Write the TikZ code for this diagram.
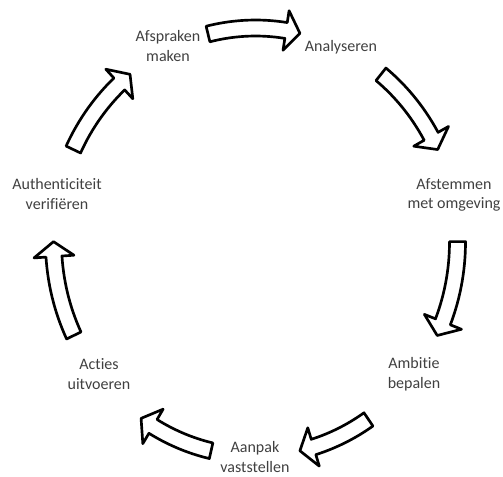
\documentclass[tikz,border=0pt]{standalone}
\usepackage{fontspec}
\setmainfont{Carlito}[Ligatures=NoCommon]
\usetikzlibrary{positioning}

\tikzset{every picture/.style={line width=0.75pt}}
\tikzset{
  cyclelabel/.style={align=center, inner sep=0.75pt, text={rgb,255:red,64;green,64;blue,64}, font=\fontsize{12}{14.6}\selectfont},
  blockarrow/.style={draw=black, fill=white, line width=2pt, line join=round}
}

% curved block arrow on the cycle, from tail angle #1 to tip angle #2
\newcommand{\cyclearrow}[2]{%
  \pgfmathsetmacro{\neckangle}{#2+4}%
  \draw [blockarrow] plot[domain=#1:\neckangle, samples=16] ({255.5+210*cos(\x)},{242-222*sin(\x)})
    -- ({255.5+222*cos(\neckangle)},{242-234*sin(\neckangle)})
    -- ({255.5+202*cos(#2)},{242-214*sin(#2)})
    -- ({255.5+182*cos(\neckangle)},{242-194*sin(\neckangle)})
    -- plot[domain=\neckangle:#1, samples=16] ({255.5+194*cos(\x)},{242-206*sin(\x)})
    -- cycle ;
}

\begin{document}
\begin{tikzpicture}[x=0.75pt,y=0.75pt,yscale=-1,xscale=1]
\useasboundingbox (0,0) rectangle (503,476);

% Text Node
\node [cyclelabel] (afspraken) at (168,46) {Afspraken\\maken};
% Text Node
\node [cyclelabel] (analyseren) at (341,47) {Analyseren};
% Text Node
\node [cyclelabel] (afstemmen) at (454,195) {Afstemmen\\met omgeving};
% Text Node
\node [cyclelabel] (ambitie) at (414,374) {Ambitie\\bepalen};
% Text Node
\node [cyclelabel] (aanpak) at (255,457) {Aanpak\\vaststellen};
% Text Node
\node [cyclelabel] (acties) at (99,374) {Acties\\uitvoeren};
% Text Node
\node [cyclelabel] (authenticiteit) at (57,194) {Authenticiteit\\verifiëren};

%Shape: Curved Arrows
\cyclearrow{103.6}{77.3}
\cyclearrow{51.6}{25.6}
\cyclearrow{0.1}{-25.9}
\cyclearrow{-56}{-77.3}
\cyclearrow{-102.7}{-124.5}
\cyclearrow{205.9}{179.9}
\cyclearrow{154.4}{128.4}

\end{tikzpicture}
\end{document}
